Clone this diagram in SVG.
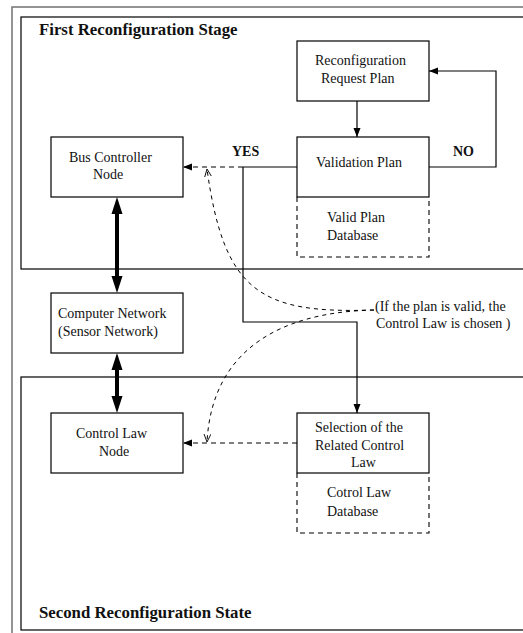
<svg xmlns="http://www.w3.org/2000/svg" width="523" height="633" viewBox="0 0 523 633">
<defs>
<marker id="ah" markerUnits="userSpaceOnUse" markerWidth="10" markerHeight="8" refX="9" refY="3.5" orient="auto">
<path d="M0,0 L9,3.5 L0,7 z" fill="#000"/>
</marker>
<marker id="ov" markerUnits="userSpaceOnUse" markerWidth="10" markerHeight="10" refX="8" refY="3.5" orient="auto">
<path d="M0,0 L8,3.5 L0,7" fill="none" stroke="#000" stroke-width="0.9"/>
</marker>
</defs>
<style>
.box{fill:#fff;stroke:#000;stroke-width:1.2}
.db{fill:none;stroke:#000;stroke-width:1.1;stroke-dasharray:5,4}
.t{font-family:"Liberation Serif","Times New Roman",serif;font-size:14px;fill:#111}
.b{font-family:"Liberation Serif","Times New Roman",serif;font-size:14px;font-weight:bold;fill:#111}
.h{font-family:"Liberation Serif","Times New Roman",serif;font-size:16.8px;font-weight:bold;fill:#111}
.ln{fill:none;stroke:#000;stroke-width:1.2}
.dl{fill:none;stroke:#000;stroke-width:1.1;stroke-dasharray:5,4}
.dc{fill:none;stroke:#000;stroke-width:1;stroke-dasharray:4,4}
</style>
<rect width="523" height="633" fill="#fff"/>
<rect x="12" y="7" width="560" height="660" fill="none" stroke="#7a7a7a" stroke-width="1.6"/>
<g id="stage1">
<rect x="21" y="17" width="560" height="252" fill="none" stroke="#000" stroke-width="1.2"/>
<text class="h" x="39" y="35">First Reconfiguration Stage</text>
</g>
<g id="stage2">
<rect x="21" y="377" width="560" height="253" fill="none" stroke="#000" stroke-width="1.2"/>
<text class="h" x="39" y="618">Second Reconfiguration State</text>
</g>
<g id="connectors">
<line class="ln" x1="357" y1="101" x2="357" y2="137" marker-end="url(#ah)"/>
<path class="ln" d="M429,167 H496 V71 H429" marker-end="url(#ah)"/>
<path class="ln" d="M297,167 H243"/>
<path class="dl" d="M243,167 H183" marker-end="url(#ah)"/>
<path class="ln" d="M243,167 V322 H357 V413" marker-end="url(#ah)"/>
<path class="dl" d="M297,443 H183" marker-end="url(#ah)"/>
<path class="dc" d="M374,310 C260,314 224,292 207,169" marker-end="url(#ov)"/>
<path class="dc" d="M374,310 C280,312 212,350 207,442" marker-end="url(#ov)"/>
<line x1="117" y1="212" x2="117" y2="278" stroke="#000" stroke-width="4"/>
<polygon points="117,197 122.5,214 111.5,214" fill="#000"/>
<polygon points="117,293 122.5,276 111.5,276" fill="#000"/>
<line x1="117" y1="368" x2="117" y2="398" stroke="#000" stroke-width="4"/>
<polygon points="117,353 122.5,370 111.5,370" fill="#000"/>
<polygon points="117,413 122.5,396 111.5,396" fill="#000"/>
<text class="b" x="232" y="156">YES</text>
<text class="b" x="453" y="156">NO</text>
<text class="t" x="375" y="311">(If the plan is valid, the</text>
<text class="t" x="376" y="328">Control Law is chosen )</text>
</g>
<g id="request">
<rect class="box" x="297" y="41" width="132" height="60"/>
<text class="t" x="315" y="65">Reconfiguration</text>
<text class="t" x="321" y="83">Request Plan</text>
</g>
<g id="validation">
<rect class="box" x="297" y="137" width="132" height="60"/>
<text class="t" x="316" y="167">Validation Plan</text>
</g>
<g id="validdb">
<path class="db" d="M297,197 V257 H429 V197"/>
<text class="t" x="327" y="222">Valid Plan</text>
<text class="t" x="327" y="240">Database</text>
</g>
<g id="bus">
<rect class="box" x="51" y="137" width="132" height="60"/>
<text class="t" x="69" y="162">Bus Controller</text>
<text class="t" x="93" y="179">Node</text>
</g>
<g id="network">
<rect class="box" x="51" y="293" width="132" height="60"/>
<text class="t" x="58" y="318">Computer Network</text>
<text class="t" x="58" y="336">(Sensor Network)</text>
</g>
<g id="controllaw">
<rect class="box" x="51" y="413" width="132" height="60"/>
<text class="t" x="76" y="438">Control Law</text>
<text class="t" x="99" y="456">Node</text>
</g>
<g id="selection">
<rect class="box" x="297" y="413" width="132" height="60"/>
<text class="t" x="315" y="432">Selection of the</text>
<text class="t" x="315" y="450">Related Control</text>
<text class="t" x="351" y="467">Law</text>
</g>
<g id="lawdb">
<path class="db" d="M297,473 V533 H429 V473"/>
<text class="t" x="327" y="497">Cotrol Law</text>
<text class="t" x="327" y="516">Database</text>
</g>
</svg>
